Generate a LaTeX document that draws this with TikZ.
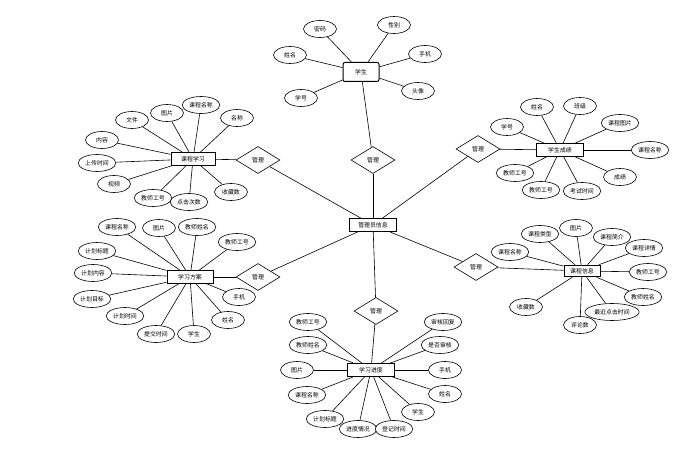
\documentclass[tikz,border=0pt]{standalone}
\usepackage{fontspec}
\setmainfont{Noto Sans CJK SC}
\usetikzlibrary{shapes.geometric,backgrounds}
\begin{document}
\begin{tikzpicture}[x=1pt,y=-1pt,
  attr/.style={ellipse,draw,fill=white,line width=0.6pt,minimum width=33pt,minimum height=17pt,inner xsep=1.5pt,inner ysep=0pt,font=\fontsize{5.9}{6}\selectfont},
  ent/.style={rectangle,draw,fill=white,line width=1pt,minimum width=46pt,minimum height=12.5pt,inner sep=1pt,font=\fontsize{5.9}{6}\selectfont},
  rel/.style={diamond,draw,fill=white,line width=0.6pt,minimum width=44pt,minimum height=27pt,inner sep=0pt,font=\fontsize{5.9}{6}\selectfont},
  link/.style={line width=0.6pt}]
\useasboundingbox (0,0) rectangle (697,452);

% centre
\node[ent,minimum width=47pt,minimum height=13pt] (adm) at (373,225) {管理员信息};
\node[rel] (r1) at (258,160) {管理};
\node[rel] (r2) at (258,277) {管理};
\node[rel] (r3) at (373,160) {管理};
\node[rel] (r4) at (376,311) {管理};
\node[rel] (r5) at (478,149) {管理};
\node[rel] (r6) at (476,267) {管理};

% 学生
\node[ent,rounded corners=2pt,minimum width=36pt,minimum height=19pt] (stu) at (361,72) {学生};
\node[attr] (s1) at (320,29) {密码};
\node[attr] (s2) at (394,25) {性别};
\node[attr] (s3) at (290,55) {姓名};
\node[attr] (s4) at (425,54) {手机};
\node[attr] (s5) at (301,98) {学号};
\node[attr] (s6) at (418,91) {头像};

% 课程学习
\node[ent,minimum width=44pt] (kx) at (193,159) {课程学习};
\node[attr] (a1) at (132,120) {文件};
\node[attr] (a2) at (167,113) {图片};
\node[attr] (a4) at (237,118) {名称};
\node[attr] (a3) at (201,105) {课程名称};
\node[attr] (a5) at (102,140) {内容};
\node[attr] (a6) at (97,163) {上传时间};
\node[attr] (a7) at (114,184) {视频};
\node[attr] (a8) at (153,198) {教师工号};
\node[attr] (a9) at (189,202) {点击次数};
\node[attr] (a10) at (231,192) {收藏数};

% 学习方案
\node[ent] (fa) at (190,277) {学习方案};
\node[attr] (b1) at (117,227) {课程名称};
\node[attr] (b2) at (159,228) {图片};
\node[attr] (b3) at (197,227) {教师姓名};
\node[attr] (b4) at (237,242) {教师工号};
\node[attr] (b5) at (97,251) {计划标题};
\node[attr] (b6) at (93,273) {计划内容};
\node[attr] (b7) at (92,299) {计划目标};
\node[attr] (b8) at (125,316) {计划时间};
\node[attr] (b9) at (156,334) {提交时间};
\node[attr] (b10) at (194,334) {学生};
\node[attr] (b11) at (239,297) {手机};
\node[attr] (b12) at (228,320) {姓名};

% 学生成绩
\node[ent,minimum width=47pt] (cj) at (560,150) {学生成绩};
\node[attr] (c1) at (537,107) {姓名};
\node[attr] (c2) at (580,106) {班级};
\node[attr] (c3) at (507,127) {学号};
\node[attr] (c4) at (620,123) {课程图片};
\node[attr] (c5) at (650,150) {课程名称};
\node[attr] (c6) at (620,177) {成绩};
\node[attr] (c7) at (515,173) {教师工号};
\node[attr] (c8) at (541,190) {教师工号};
\node[attr] (c9) at (582,191) {考试时间};

% 课程信息
\node[ent,minimum width=36pt,minimum height=11.5pt] (xi) at (582,271) {课程信息};
\node[attr] (d1) at (540,234) {课程类型};
\node[attr] (d2) at (576,228) {图片};
\node[attr] (d3) at (612,237) {课程简介};
\node[attr] (d4) at (644,248) {课程详情};
\node[attr] (d5) at (510,252) {课程名称};
\node[attr] (d6) at (648,272) {教师工号};
\node[attr] (d7) at (643,297) {教师姓名};
\node[attr] (d8) at (526,307) {收藏数};
\node[attr] (d9) at (612,312) {最近点击时间};
\node[attr] (d10) at (580,325) {评论数};

% 学习进度
\node[ent,minimum width=47pt,minimum height=13pt] (jd) at (371,370) {学习进度};
\node[attr] (e1) at (308,322) {教师工号};
\node[attr] (e2) at (308,345) {教师姓名};
\node[attr] (e3) at (297,370) {图片};
\node[attr] (e4) at (307,395) {课程名称};
\node[attr] (e5) at (325,419) {计划标题};
\node[attr] (e6) at (358,429) {进度情况};
\node[attr] (e7) at (394,429) {登记时间};
\node[attr] (e8) at (418,412) {学生};
\node[attr] (e9) at (443,322) {审核回复};
\node[attr] (e10) at (440,345) {是否审核};
\node[attr] (e11) at (445,370) {手机};
\node[attr] (e12) at (445,394) {姓名};

\begin{pgfonlayer}{background}
\foreach \r in {r1,r2,r3,r4,r5,r6} \draw[link] (adm) -- (\r);
\draw[link] (stu) -- (r3);
\draw[link] (kx) -- (r1);
\draw[link] (fa) -- (r2);
\draw[link] (jd) -- (r4);
\draw[link] (cj) -- (r5);
\draw[link] (xi) -- (r6);
\foreach \a in {s1,s2,s3,s4,s5,s6} \draw[link] (stu) -- (\a);
\foreach \a in {a1,a2,a3,a4,a5,a6,a7,a8,a9,a10} \draw[link] (kx) -- (\a);
\foreach \a in {b1,b2,b3,b4,b5,b6,b7,b8,b9,b10,b11,b12} \draw[link] (fa) -- (\a);
\foreach \a in {c1,c2,c3,c4,c5,c6,c7,c8,c9} \draw[link] (cj) -- (\a);
\foreach \a in {d1,d2,d3,d4,d5,d6,d7,d8,d9,d10} \draw[link] (xi) -- (\a);
\foreach \a in {e1,e2,e3,e4,e5,e6,e7,e8,e9,e10,e11,e12} \draw[link] (jd) -- (\a);
\end{pgfonlayer}
\end{tikzpicture}
\end{document}
